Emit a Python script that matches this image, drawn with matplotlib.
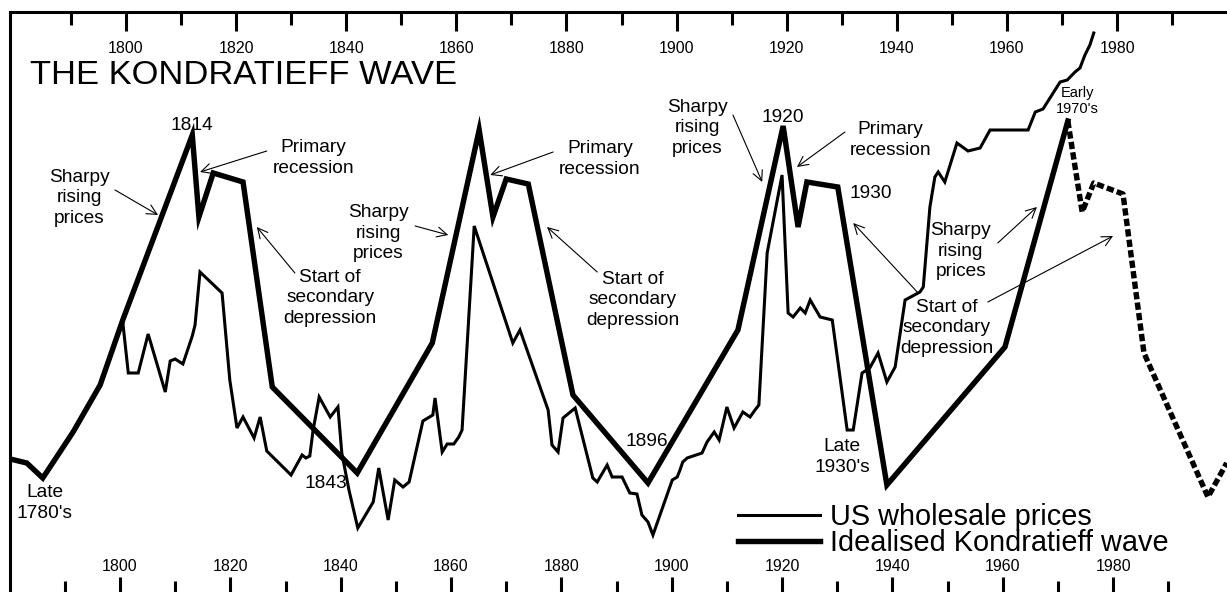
import matplotlib
matplotlib.use("Agg")
import matplotlib.pyplot as plt

plt.rcParams['font.family'] = ['Liberation Sans', 'DejaVu Sans']

# ---------------- data ----------------
wholesale_years = [1780.1, 1783.1, 1786.0, 1791.5, 1796.4, 1800.5, 1801.5, 1803.3, 1805.1, 1808.2,
                   1809.1, 1810.0, 1811.4, 1813.1, 1813.6, 1814.5, 1818.5, 1819.9, 1821.2, 1822.3,
                   1824.3, 1825.4, 1826.6, 1831.0, 1833.0, 1833.7, 1834.4, 1835.0, 1836.1, 1838.1,
                   1839.5, 1840.2, 1841.5, 1843.1, 1845.9, 1846.9, 1848.6, 1849.8, 1851.3, 1852.4,
                   1854.9, 1856.7, 1857.1, 1858.4, 1859.3, 1860.5, 1861.4, 1862.0, 1864.2, 1871.2,
                   1872.5, 1877.6, 1878.3, 1879.4, 1880.3, 1882.5, 1885.7, 1886.5, 1888.3, 1889.2,
                   1891.0, 1892.4, 1893.7, 1894.6, 1895.7, 1896.6, 1900.1, 1901.0, 1901.5, 1902.0,
                   1902.8, 1905.5, 1906.4, 1907.7, 1908.6, 1910.0, 1911.3, 1912.9, 1914.2, 1915.1,
                   1915.8, 1917.3, 1920.0, 1921.1, 1922.0, 1923.3, 1924.2, 1925.1, 1926.9, 1929.1,
                   1931.8, 1932.9, 1934.5, 1935.9, 1937.4, 1939.0, 1940.5, 1942.3, 1945.0, 1945.6,
                   1946.8, 1947.7, 1948.3, 1949.5, 1951.7, 1953.7, 1955.9, 1957.7, 1964.6, 1965.9,
                   1967.3, 1970.4, 1971.7, 1973.1, 1974.0, 1974.9, 1975.8, 1976.5]
wholesale_values = [133, 129, 114, 160, 207, 270, 219, 219, 258, 200,
                    231, 233, 228, 256, 267, 320, 299, 212, 164, 175,
                    154, 175, 141, 117, 137, 134, 136, 162, 195, 175,
                    185, 139, 102, 64, 90, 124, 72, 112, 105, 110,
                    171, 177, 194, 140, 148, 148, 155, 162, 366, 249,
                    262, 182, 147, 140, 174, 184, 114, 110, 127, 115,
                    115, 99, 98, 77, 70, 57, 112, 115, 122, 130,
                    134, 139, 150, 160, 152, 185, 164, 180, 175, 182,
                    187, 339, 417, 279, 275, 284, 279, 292, 275, 272,
                    162, 162, 219, 224, 239, 210, 225, 292, 300, 305,
                    385, 415, 420, 410, 449, 441, 444, 462, 462, 480,
                    483, 510, 512, 520, 524, 537, 547, 559]

wave_years = [1780.1, 1783.1, 1786.0, 1791.5, 1796.4, 1800.5, 1813.1, 1814.3, 1816.9, 1822.3,
              1827.6, 1843.0, 1856.6, 1865.1, 1867.6, 1870.0, 1874.0, 1882.1, 1895.7, 1912.0,
              1920.2, 1922.9, 1924.5, 1930.1, 1939.0, 1960.4, 1971.8]
wave_values = [133, 129, 114, 160, 207, 272, 457, 375, 419, 410,
               205, 119, 249, 462, 375, 413, 408, 197, 109, 262,
               466, 365, 410, 405, 107, 245, 471]

projection_years = [1971.8, 1974.4, 1976.5, 1981.8, 1985.6, 1997.2, 2000.6]
projection_values = [471, 380, 409, 398, 239, 95, 129]

major_ticks = [1800, 1820, 1840, 1860, 1880, 1900, 1920, 1940, 1960, 1980]
minor_ticks = [1790, 1810, 1830, 1850, 1870, 1890, 1910, 1930, 1950, 1970, 1990]
tick_labels = ['1800', '1820', '1840', '1860', '1880', '1900', '1920', '1940', '1960', '1980']

# ---------------- figure ----------------
W, H = 1227, 592
fig = plt.figure(figsize=(W / 100, H / 100), dpi=100)
fig.patch.set_facecolor('white')
ax = fig.add_axes([10 / W, 0, 1 - 10 / W, 1 - 12 / H])
ax.set_xlim(1780.06, 2000.65)
ax.set_ylim(0, 580)

thin_lw = 2.2
thick_lw = 3.9
ax.plot(wholesale_years, wholesale_values, color='black', lw=thin_lw,
        solid_joinstyle='miter', label='US wholesale prices', zorder=3)
ax.plot(wave_years, wave_values, color='black', lw=thick_lw,
        solid_joinstyle='miter', label='Idealised Kondratieff wave', zorder=3)
ax.plot(projection_years, projection_values, color='black', lw=thick_lw,
        linestyle=(0, (1.35, 0.6)), dash_capstyle='butt', zorder=3)

# spines
for s in ['right', 'bottom', 'top']:
    ax.spines[s].set_visible(False)
ax.spines['left'].set_linewidth(2.2)
ax.set_yticks([])

ax.set_xticks(major_ticks)
ax.set_xticklabels(tick_labels)
ax.set_xticks(minor_ticks, minor=True)
ax.tick_params(axis='x', which='major', direction='in', length=11, width=2.2,
               pad=-24, labelsize=11.5)
ax.tick_params(axis='x', which='minor', direction='in', length=8, width=2.2)

ax2 = ax.twiny()
ax2.set_xlim(1778.93, 1999.96)
for s in ['right', 'bottom', 'left']:
    ax2.spines[s].set_visible(False)
ax2.spines['top'].set_linewidth(2.2)
ax2.set_xticks(major_ticks)
ax2.set_xticklabels(tick_labels)
ax2.set_xticks(minor_ticks, minor=True)
ax2.tick_params(axis='x', which='major', direction='in', length=14, width=2.2,
                pad=-32, labelsize=11.5)
ax2.tick_params(axis='x', which='minor', direction='in', length=9, width=2.2)

# title
fig.text(30 / W, 1 - 75.5 / H, 'THE KONDRATIEFF WAVE', fontsize=24.8,
         ha='left', va='center')

# annotations
afs = 13.8
ls = 1.3
arrow_kw = dict(arrowstyle='->, head_length=0.6, head_width=0.3', lw=0.8,
                color='black', mutation_scale=12, shrinkA=0, shrinkB=0)


def note(text, pos, size=afs, spacing=ls):
    ax.text(pos[0], pos[1], text, fontsize=size, ha='center', va='center',
            linespacing=spacing, zorder=4)


def arrow(tail, head):
    ax.annotate('', xy=head, xytext=tail, arrowprops=arrow_kw, zorder=4)


note('Sharpy\nrising\nprices', (1792.6, 394))
arrow((1799.1, 402), (1806.9, 377))
note('Primary\nrecession', (1835.0, 434))
arrow((1826.6, 441), (1814.5, 420))
note('Start of\nsecondary\ndepression', (1838.1, 294))
arrow((1831.7, 319), (1824.8, 365))

note('Sharpy\nrising\nprices', (1846.8, 359))
arrow((1853.5, 366), (1859.5, 357))
note('Primary\nrecession', (1887.0, 433))
arrow((1878.5, 440), (1867.1, 417))
note('Start of\nsecondary\ndepression', (1893.0, 292))
arrow((1886.5, 320), (1877.4, 365))

note('Sharpy\nrising\nprices', (1904.6, 464))
arrow((1911.1, 477), (1916.4, 410))
note('Primary\nrecession', (1939.6, 452))
arrow((1931.4, 460), (1922.7, 425))
note('Start of\nsecondary\ndepression', (1949.9, 264))
arrow((1944.5, 300), (1932.9, 369))
arrow((1957.3, 290), (1980.0, 356))
note('Sharpy\nrising\nprices', (1952.4, 341))
arrow((1959.1, 349), (1966.2, 385))

note('1814', (1813.1, 466))
note('1843', (1837.3, 109))
note('1896', (1895.5, 151))
note('1920', (1920.2, 475))
note('1930', (1936.1, 399))
note('Late\n1780\'s', (1786.4, 89))
note('Late\n1930\'s', (1930.9, 135))
note('Early\n1970\'s', (1973.6, 491), size=10.5, spacing=1.15)

# legend
leg = ax.legend(loc='upper left', bbox_to_anchor=(738 / W, 1 - 503 / H),
                bbox_transform=fig.transFigure, frameon=False, fontsize=20.8,
                handlelength=2.85, handletextpad=0.35, labelspacing=-0.06,
                borderpad=0, borderaxespad=0)

fig.savefig('out.png', dpi=100, facecolor='white')
